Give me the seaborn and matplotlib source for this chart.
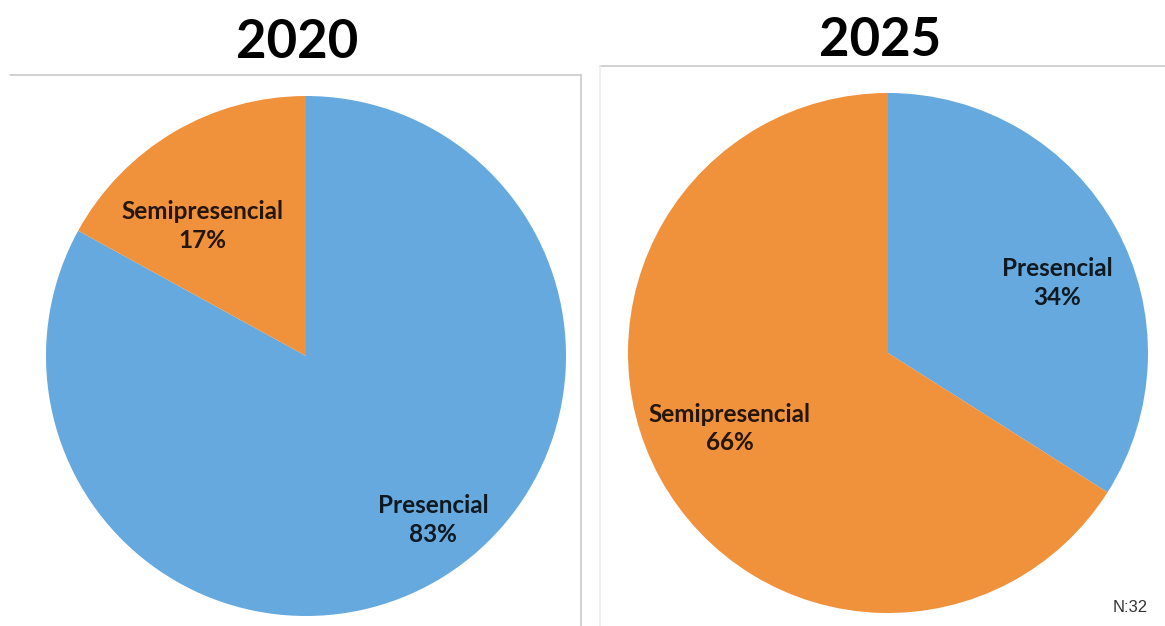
import matplotlib
matplotlib.use("Agg")
import matplotlib.pyplot as plt
import numpy as np
import seaborn as sns
from matplotlib.lines import Line2D

sns.set_theme(style="white")
plt.rcParams["font.family"] = ["Lato", "DejaVu Sans"]

# Survey results: delivery mode share, 2020 vs expected 2025
years = ["2020", "2025"]
categories = ["Presencial", "Semipresencial"]
share_2020 = [83, 17]
share_2025 = [34, 66]
sample_note = "N:32"

colors = ["#65a9de", "#f0913c"]

# label offsets inside each pie (fraction of radius), per category
label_pos_2020 = [(0.49, -0.63), (-0.40, 0.50)]
label_pos_2025 = [(0.65, 0.27), (-0.61, -0.29)]

W, H = 1165, 626
fig = plt.figure(figsize=(W / 100, H / 100), dpi=100)
fig.patch.set_facecolor("white")


def px_rect(x0, y0, w, h):
    """Figure-fraction rect from pixel box (top-left origin)."""
    return [x0 / W, 1 - (y0 + h) / H, w / W, h / H]


def hline(x0, x1, y):
    fig.add_artist(Line2D([x0 / W, x1 / W], [1 - y / H, 1 - y / H],
                          color="#c9c9c9", lw=1.2))


def vline(x, y0, y1, color="#c9c9c9"):
    fig.add_artist(Line2D([x / W, x / W], [1 - y0 / H, 1 - y1 / H],
                          color=color, lw=1.2))


# panel frames
hline(10, 581, 75)
vline(581, 75, 626)
hline(600, 1165, 66)
vline(600, 66, 626, color="#ededed")

R = 260
panels = [
    (share_2020, label_pos_2020, (306, 356), (297, 42)),
    (share_2025, label_pos_2025, (888, 353), (880, 40)),
]

for year, (vals, lpos, (cx, cy), (tx, ty)) in zip(years, panels):
    ax = fig.add_axes(px_rect(cx - R, cy - R, 2 * R, 2 * R))
    ax.pie(vals, colors=colors, startangle=90, counterclock=False,
           radius=1, wedgeprops=dict(linewidth=0))
    ax.set_xlim(-1, 1)
    ax.set_ylim(-1, 1)
    ax.set_aspect("equal")
    ax.axis("off")
    for cat, v, (dx, dy) in zip(categories, vals, lpos):
        ax.text(dx, dy, f"{cat}\n{v}%", ha="center", va="center",
                fontsize=17.5, fontweight="bold", color="black", alpha=0.85,
                linespacing=1.3)
    fig.text(tx / W, 1 - ty / H, year, ha="center", va="center",
             fontsize=38, fontweight="bold", color="black")

fig.text(1130 / W, 1 - 608 / H, sample_note, ha="center", va="center",
         fontsize=12, color="#333333", family=["Liberation Sans", "DejaVu Sans"])

fig.savefig("out.png", dpi=100, facecolor="white")
